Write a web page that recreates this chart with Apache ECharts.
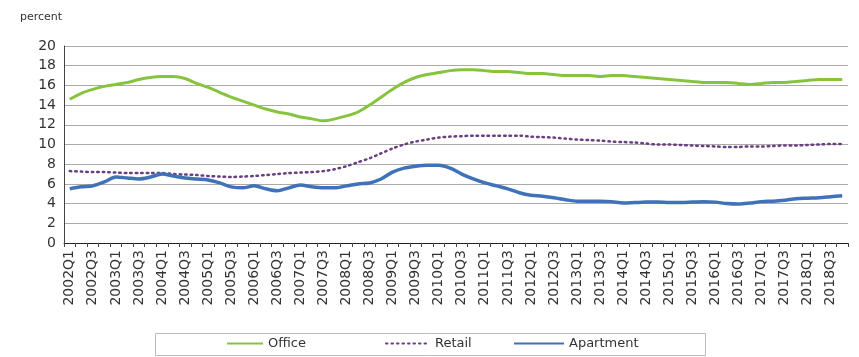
<!DOCTYPE html>
<html>
<head>
<meta charset="utf-8">
<script src="https://cdn.jsdelivr.net/npm/echarts@6/dist/echarts.min.js"></script>
<style>html,body{margin:0;padding:0;background:#fff;}#c{width:859px;height:357px;}</style>
</head>
<body>
<div id="c"></div>
<script>
const years = [2002,2003,2004,2005,2006,2007,2008,2009,2010,2011,2012,2013,2014,2015,2016,2017,2018];
const quarters = [];
years.forEach(y => { for (let q = 1; q <= 4; q++) quarters.push(y + 'Q' + q); });

const office = [14.6,15.2,15.6,15.9,16.1,16.3,16.6,16.8,16.9,16.9,16.7,16.2,15.8,15.3,14.8,14.4,
  14.0,13.6,13.3,13.1,12.8,12.6,12.4,12.6,12.9,13.3,14.0,14.8,15.6,16.3,16.8,17.1,
  17.3,17.5,17.6,17.6,17.5,17.4,17.4,17.3,17.2,17.2,17.1,17.0,17.0,17.0,16.9,17.0,
  17.0,16.9,16.8,16.7,16.6,16.5,16.4,16.3,16.3,16.3,16.2,16.1,16.2,16.3,16.3,16.4,
  16.5,16.6,16.6,16.6];
const retail = [7.3,7.25,7.2,7.2,7.15,7.1,7.1,7.1,7.1,7.0,6.95,6.9,6.8,6.75,6.7,6.75,
  6.8,6.9,7.0,7.1,7.15,7.2,7.3,7.5,7.8,8.2,8.6,9.1,9.6,10.0,10.3,10.5,
  10.7,10.8,10.85,10.9,10.9,10.9,10.9,10.9,10.8,10.75,10.7,10.6,10.5,10.45,10.4,10.3,
  10.25,10.2,10.1,10.0,10.0,9.95,9.9,9.85,9.8,9.75,9.75,9.8,9.8,9.85,9.9,9.9,
  9.95,10.0,10.05,10.05];
const apartment = [5.5,5.7,5.8,6.2,6.7,6.6,6.5,6.7,7.0,6.8,6.6,6.5,6.4,6.1,5.7,5.6,
  5.8,5.5,5.3,5.6,5.9,5.7,5.6,5.6,5.8,6.0,6.1,6.5,7.2,7.6,7.8,7.9,
  7.9,7.6,7.0,6.5,6.1,5.8,5.5,5.1,4.85,4.75,4.6,4.4,4.25,4.25,4.25,4.2,
  4.05,4.1,4.15,4.15,4.1,4.1,4.15,4.2,4.15,4.0,3.95,4.05,4.2,4.25,4.35,4.5,
  4.55,4.6,4.7,4.8];
const yTicks = {min: 0, max: 20, interval: 2};

const FONT = 'DejaVu Sans';
const legendCommon = {top: 337, padding: 0, itemHeight: 14, itemStyle: {opacity: 0},
  textStyle: {fontSize: 13, color: '#333', fontFamily: FONT}};
const chart = echarts.init(document.getElementById('c'), null, {renderer: 'canvas'});
chart.setOption({
  animation: false,
  backgroundColor: '#fff',
  textStyle: {fontFamily: FONT},
  title: {text: 'percent', left: 15, top: 7, textStyle: {fontSize: 11, fontWeight: 'normal', color: '#333', fontFamily: FONT}},
  grid: {left: 64, right: 11, top: 46, bottom: 114, containLabel: false},
  graphic: [{type: 'rect', shape: {x: 155.5, y: 333.5, width: 550, height: 22}, style: {fill: 'none', stroke: '#bbb', lineWidth: 1}, silent: true}],
  legend: [
    Object.assign({data: ['Office'], left: 226, itemWidth: 36}, legendCommon),
    Object.assign({data: ['Retail'], left: 385, itemWidth: 44}, legendCommon),
    Object.assign({data: ['Apartment'], left: 513, itemWidth: 50}, legendCommon)
  ],
  xAxis: {
    type: 'category', data: quarters, boundaryGap: true,
    axisLine: {lineStyle: {color: '#222', width: 1}},
    axisTick: {show: true, interval: 0, length: 4, lineStyle: {color: '#444'}},
    axisLabel: {interval: 1, rotate: 90, fontSize: 14, color: '#333', margin: 7, fontFamily: FONT}
  },
  yAxis: {
    type: 'value', min: yTicks.min, max: yTicks.max, interval: yTicks.interval,
    axisLine: {show: true, lineStyle: {color: '#444'}},
    axisTick: {show: false},
    axisLabel: {fontSize: 14, color: '#333', margin: 8, fontFamily: FONT},
    splitLine: {lineStyle: {color: '#aaa', width: 1}}
  },
  series: [
    {name: 'Office', type: 'line', data: office, smooth: 0.3, symbol: 'none', color: '#86c440',
     lineStyle: {width: 3, color: '#86c440'}},
    {name: 'Retail', type: 'line', data: retail, smooth: 0.3, symbol: 'none', color: '#6a3f80',
     lineStyle: {width: 2.5, color: '#6a3f80', type: [1.5, 4], cap: 'round'}},
    {name: 'Apartment', type: 'line', data: apartment, smooth: 0.3, symbol: 'none', color: '#3f72b8',
     lineStyle: {width: 3.5, color: '#3f72b8'}}
  ]
});
</script>
</body>
</html>
